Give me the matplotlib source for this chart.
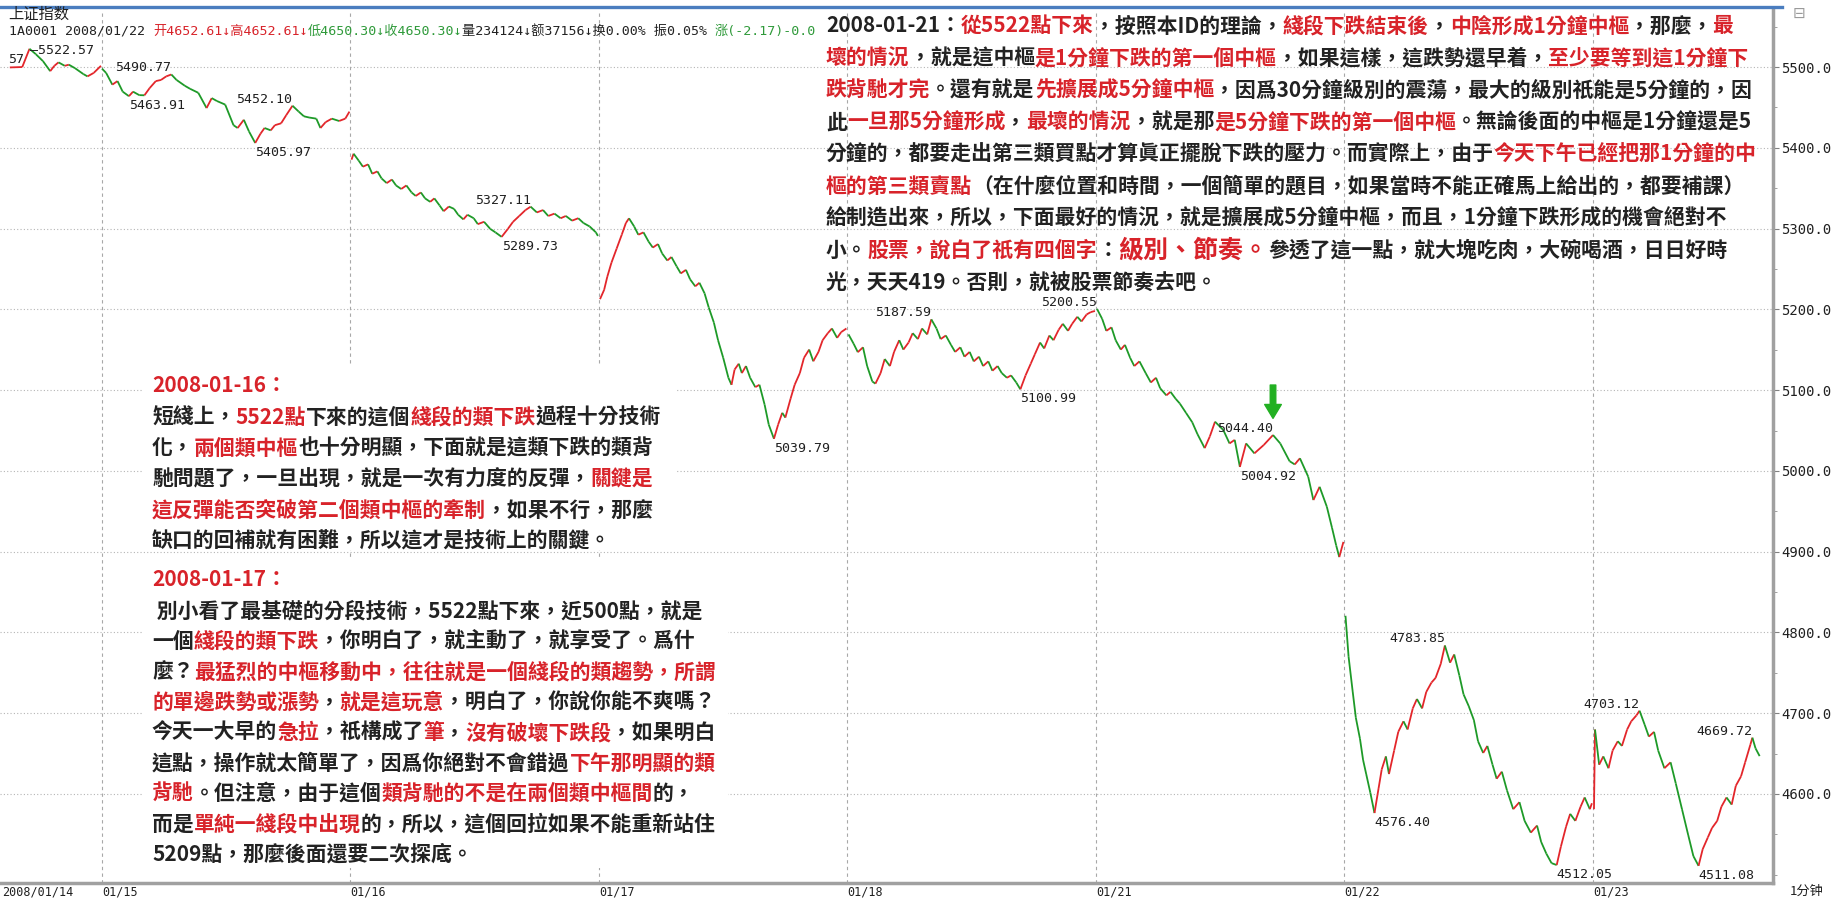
import matplotlib
matplotlib.use("Agg")
import matplotlib.pyplot as plt
from matplotlib.collections import LineCollection
from matplotlib.lines import Line2D
from matplotlib.patches import Rectangle
from matplotlib.ticker import FormatStrFormatter, MultipleLocator
import numpy as np

W, H = 1838, 902
CJK = ["Noto Sans CJK TC", "DejaVu Sans"]
MONO = ["DejaVu Sans Mono", "Noto Sans CJK SC"]

UP = "#e3262b"
DOWN = "#1e9a28"
R = "#d8232a"
K = "#222222"
G = "#2f9a3a"

day_names = ["2008/01/14", "01/15", "01/16", "01/17", "01/18", "01/21", "01/22", "01/23"]
day_len = 240

# 1-minute index: minute of the session and level
t_0114 = [151, 163, 170, 176, 183, 190, 194, 198, 204, 208, 214, 222, 226, 232, 239]
p_0114 = [5499.5, 5500.0, 5522.57, 5516.0, 5507.3, 5494.9, 5501.5, 5505.8, 5501.5, 5502.9,
          5498.5, 5491.3, 5488.4, 5492.7, 5501.5]

t_0115 = [0, 4, 10, 15, 20, 26, 30, 36, 41, 46, 52, 57, 62, 67, 72, 80, 85, 93, 101, 106,
          111, 119, 127, 131, 137, 142, 148, 153, 157, 163, 167, 173, 178, 184, 190, 195,
          200, 207, 211, 216, 222, 229, 235, 239]
p_0115 = [5498.0, 5492.7, 5478.2, 5482.6, 5469.5, 5463.91, 5469.5, 5465.2, 5465.0, 5473.9,
          5482.6, 5484.0, 5488.4, 5490.77, 5484.0, 5476.8, 5473.1, 5468.1, 5449.2, 5461.5,
          5457.9, 5453.5, 5428.0, 5424.5, 5434.7, 5420.2, 5405.97, 5417.3, 5424.5, 5421.6,
          5428.0, 5430.3, 5440.5, 5452.10, 5444.8, 5439.0, 5437.5, 5436.1, 5424.5, 5431.8,
          5436.1, 5433.2, 5436.1, 5444.8]

t_0116 = [1, 3, 8, 12, 17, 21, 26, 30, 35, 40, 44, 49, 54, 59, 63, 68, 72, 77, 81, 86, 90,
          95, 100, 104, 109, 113, 119, 123, 129, 135, 140, 146, 152, 157, 163, 169, 174, 180,
          186, 191, 197, 203, 208, 214, 220, 225, 231, 237, 239]
p_0116 = [5385.3, 5392.7, 5384.0, 5376.6, 5379.5, 5367.9, 5370.8, 5362.1, 5356.3, 5360.7,
          5353.4, 5349.0, 5353.4, 5344.7, 5340.4, 5344.7, 5337.4, 5333.1, 5337.4, 5328.7,
          5321.5, 5327.3, 5324.4, 5317.1, 5311.4, 5317.1, 5312.8, 5305.5, 5308.4, 5299.6,
          5295.3, 5289.73, 5299.6, 5308.4, 5315.6, 5322.9, 5327.11, 5320.0, 5322.9, 5315.6,
          5318.5, 5312.8, 5315.6, 5309.8, 5312.8, 5306.9, 5302.6, 5295.3, 5290.9]

t_0117 = [1, 5, 8, 12, 17, 22, 26, 29, 34, 38, 43, 48, 52, 57, 61, 66, 70, 75, 79, 84, 88,
          93, 97, 102, 106, 111, 115, 120, 125, 128, 131, 135, 138, 142, 146, 151, 155, 160,
          164, 169, 173, 177, 180, 185, 189, 194, 198, 203, 207, 212, 216, 221, 225, 230,
          234, 239]
p_0117 = [5212.6, 5224.2, 5240.2, 5257.6, 5275.0, 5292.4, 5306.9, 5312.7, 5302.6, 5292.4,
          5295.3, 5283.7, 5276.5, 5280.8, 5269.2, 5260.5, 5264.8, 5253.2, 5244.5, 5248.9,
          5237.2, 5228.5, 5232.9, 5219.8, 5202.4, 5183.5, 5161.8, 5140.0, 5115.3, 5106.6,
          5125.5, 5132.7, 5121.1, 5129.8, 5115.3, 5103.7, 5106.6, 5081.9, 5057.2, 5039.79,
          5057.2, 5071.9, 5066.0, 5089.2, 5106.6, 5121.1, 5140.0, 5150.2, 5135.7, 5147.3,
          5161.8, 5170.5, 5176.3, 5164.7, 5171.9, 5176.3]

t_0118 = [1, 6, 10, 15, 19, 24, 27, 32, 36, 41, 45, 50, 54, 59, 63, 68, 72, 77, 81, 86, 90,
          95, 100, 104, 109, 113, 118, 122, 127, 131, 136, 140, 145, 149, 154, 158, 163, 167,
          172, 177, 181, 186, 190, 195, 199, 204, 208, 213, 217, 222, 226, 231, 235, 239]
p_0118 = [5169.0, 5157.3, 5147.0, 5153.0, 5129.8, 5110.7, 5108.0, 5121.1, 5138.5, 5129.8,
          5147.3, 5161.8, 5150.2, 5158.9, 5170.5, 5163.2, 5176.3, 5169.0, 5187.59, 5176.3,
          5163.2, 5167.6, 5156.0, 5147.3, 5153.0, 5141.4, 5147.3, 5135.6, 5141.4, 5129.8,
          5135.6, 5124.0, 5129.8, 5121.1, 5115.3, 5118.2, 5109.5, 5100.99, 5118.2, 5132.7,
          5144.4, 5158.9, 5151.6, 5167.6, 5161.8, 5174.8, 5182.1, 5173.4, 5182.1, 5190.8,
          5185.0, 5193.7, 5196.6, 5198.0]

t_0121 = [1, 6, 10, 15, 19, 24, 28, 33, 37, 42, 48, 53, 58, 62, 68, 72, 77, 81, 87, 93, 98,
          105, 110, 115, 123, 129, 134, 139, 145, 153, 162, 171, 178, 187, 192, 197, 205, 210,
          216, 223, 228, 232, 235, 239]
p_0121 = [5200.55, 5188.2, 5173.4, 5177.7, 5161.8, 5150.2, 5156.0, 5140.0, 5129.8, 5135.6,
          5121.1, 5109.5, 5115.3, 5102.3, 5093.5, 5097.9, 5089.2, 5083.4, 5071.8, 5060.2,
          5045.6, 5028.2, 5042.7, 5060.9, 5050.6, 5034.0, 5038.4, 5004.92, 5034.0, 5021.7,
          5032.0, 5044.40, 5034.0, 5012.0, 5008.0, 5015.6, 4992.8, 4963.9, 4980.3, 4955.6,
          4929.5, 4907.8, 4893.3, 4912.1]

t_0122 = [1, 4, 8, 11, 15, 18, 21, 25, 29, 33, 36, 40, 43, 48, 52, 57, 61, 66, 70, 75, 79,
          84, 88, 93, 97, 102, 106, 111, 115, 120, 125, 129, 134, 138, 143, 147, 152, 157,
          163, 169, 174, 180, 186, 190, 195, 200, 205, 209, 214, 218, 223, 228, 232, 237, 239]
p_0122 = [4820.6, 4769.8, 4726.3, 4694.4, 4668.3, 4642.1, 4624.7, 4601.5, 4576.40, 4607.3,
          4630.5, 4646.5, 4624.7, 4653.8, 4677.0, 4690.0, 4679.9, 4706.0, 4717.6, 4706.0,
          4726.3, 4737.9, 4743.7, 4761.1, 4783.85, 4762.6, 4772.7, 4746.6, 4723.4, 4708.9,
          4691.5, 4665.3, 4650.8, 4659.5, 4636.3, 4618.9, 4627.6, 4604.4, 4581.2, 4589.9,
          4566.7, 4552.2, 4560.9, 4540.6, 4526.1, 4514.4, 4512.05, 4534.7, 4559.4, 4575.4,
          4566.7, 4584.1, 4595.7, 4581.2, 4588.5]

t_0123 = [1, 2, 6, 10, 15, 19, 24, 28, 33, 37, 42, 45, 50, 54, 59, 63, 69, 75, 80, 86, 92,
          97, 102, 106, 111, 115, 120, 124, 129, 134, 138, 143, 147, 152, 154, 157, 161]
p_0123 = [4581.2, 4679.8, 4636.3, 4646.5, 4631.9, 4653.8, 4665.3, 4659.5, 4679.8, 4690.0,
          4697.3, 4703.12, 4685.6, 4671.1, 4676.9, 4653.8, 4631.9, 4639.2, 4613.1, 4581.2,
          4549.2, 4523.1, 4511.08, 4531.7, 4546.3, 4557.9, 4566.7, 4584.1, 4595.7, 4586.9,
          4610.2, 4621.8, 4639.2, 4660.9, 4669.72, 4656.6, 4646.9]

sessions = [(t_0114, p_0114), (t_0115, p_0115), (t_0116, p_0116), (t_0117, p_0117),
            (t_0118, p_0118), (t_0121, p_0121), (t_0122, p_0122), (t_0123, p_0123)]

# marked highs / lows: session, minute, value, kind
mark_day = [0, 1, 1, 1, 1, 2, 2, 3, 4, 4, 5, 5, 5, 6, 6, 6, 7, 7, 7]
mark_min = [170, 26, 67, 148, 184, 146, 174, 169, 81, 167, 1, 139, 171, 29, 97, 205, 45, 102, 154]
mark_val = [5522.57, 5463.91, 5490.77, 5405.97, 5452.10, 5289.73, 5327.11, 5039.79, 5187.59,
            5100.99, 5200.55, 5004.92, 5044.40, 4576.40, 4783.85, 4512.05, 4703.12, 4511.08,
            4669.72]
mark_kind = ["top", "lo", "hi", "lo", "hi", "lo", "hi", "lo", "hi", "lo", "hi", "lo", "hi",
             "lo", "hi", "lo", "hi", "lo", "hi"]

y_ticks = [4600, 4700, 4800, 4900, 5000, 5100, 5200, 5300, 5400, 5500]

fig = plt.figure(figsize=(W / 100, H / 100), dpi=100)
fig.patch.set_facecolor("white")
ax = fig.add_axes([0, 1 - 883 / H, 1773 / W, 873 / H])
ax.set_xlim(141.5, 1853.9)
ax.set_ylim(4489.8, 5570.6)

# price line, red for up minutes and green for down minutes
for i, (t, p) in enumerate(sessions):
    x = np.array(t) + i * day_len
    y = np.array(p)
    pts = np.column_stack([x, y])
    segs = np.stack([pts[:-1], pts[1:]], axis=1)
    cols = [UP if y[j + 1] >= y[j] else DOWN for j in range(len(y) - 1)]
    ax.add_collection(LineCollection(segs, colors=cols, linewidths=1.3, zorder=3))

# grid
for v in y_ticks:
    ax.axhline(v, color="#b5b5b5", lw=0.8, ls=(0, (1, 2)), zorder=1)
for i in range(1, len(day_names)):
    ax.axvline(i * day_len, color="#a8a8a8", lw=0.8, ls=(0, (3, 3)), zorder=1)

# high / low labels
for d, m, v, k in zip(mark_day, mark_min, mark_val, mark_kind):
    x = d * day_len + m
    kw = dict(textcoords="offset points", fontsize=9.5, family=MONO, color="#202020", zorder=4)
    if k == "top":
        ax.annotate("\u2014%.2f" % v, xy=(x, v), xytext=(0, -1), ha="left", va="center", **kw)
    elif k == "hi":
        ax.annotate("%.2f" % v, xy=(x, v), xytext=(0, 0), ha="right", va="bottom", **kw)
    else:
        ax.annotate("%.2f" % v, xy=(x, v), xytext=(0, -2), ha="left", va="top", **kw)
ax.annotate("57", xy=(0, 5509), xycoords=("axes fraction", "data"), xytext=(6, 0),
            textcoords="offset points", ha="left", va="center", fontsize=9.5, family=MONO,
            color="#202020")

# green arrow over the 5044.40 high
ax.annotate("", xy=(5 * day_len + 171, 5044.40), xytext=(0, 36), textcoords="offset points",
            arrowprops=dict(arrowstyle="simple,head_length=0.5,head_width=0.6,tail_width=0.2",
                            color="#22b022", mutation_scale=20, shrinkA=0, shrinkB=12),
            zorder=5)

# axes styling
for s in ["top", "left"]:
    ax.spines[s].set_visible(False)
for s in ["right", "bottom"]:
    ax.spines[s].set_color("#a0a0a0")
    ax.spines[s].set_linewidth(2.5)
ax.yaxis.tick_right()
ax.set_yticks(y_ticks)
ax.yaxis.set_minor_locator(MultipleLocator(50))
ax.yaxis.set_major_formatter(FormatStrFormatter("%.1f"))
ax.tick_params(axis="y", which="major", length=4, color="#808080", pad=2, labelsize=10,
               labelcolor="#202020")
ax.tick_params(axis="y", which="minor", length=3, color="#909090")
for lab in ax.get_yticklabels():
    lab.set_family(MONO)
ax.set_xticks([144] + [i * day_len for i in range(1, len(day_names))])
ax.set_xticklabels(day_names, family=MONO, fontsize=8.5, color="#202020", ha="left")
ax.tick_params(axis="x", length=0, pad=2)
ax.set_facecolor("white")

# frame decorations
fig.add_artist(Line2D([0, 1782 / W], [1 - 7 / H] * 2, color="#4a7dbf", lw=2.4))
fig.text(1793 / W, 1 - 13 / H, "\u229f", fontsize=11, color="#9a9a9a", ha="left", va="center")
fig.text(1790 / W, 1 - 891 / H, "1分钟", fontsize=9.5, color="#202020", ha="left", va="center",
         family=["Noto Sans CJK SC", "DejaVu Sans"])

renderer = fig.canvas.get_renderer()


def rich_line(x, y, parts, size=15.0, family=CJK, weight="bold", z=6):
    for part in parts:
        s, c = part[0], part[1]
        fs = part[2] if len(part) > 2 else size
        t = fig.text(x / W, 1 - y / H, s, color=c, fontsize=fs, family=family,
                     fontweight=weight, ha="left", va="center_baseline", zorder=z)
        x += t.get_window_extent(renderer).width


# header
fig.text(8 / W, 1 - 14 / H, "上证指数", fontsize=11, color="#202020", ha="left", va="center",
         family=["Noto Sans CJK SC", "DejaVu Sans"])
rich_line(9, 30, [("1A0001 2008/01/22 ", K), ("开4652.61↓高4652.61↓", R),
                  ("低4650.30↓收4650.30↓", G), ("量234124↓额37156↓换0.00% 振0.05% ", K),
                  ("涨(-2.17)-0.0", G)], size=9.5, family=MONO, weight="normal")

top_lines = [
    [("2008-01-21：", K), ("從5522點下來", R), ("，按照本ID的理論，", K), ("綫段下跌結束後", R),
     ("，", K), ("中陰形成1分鐘中樞", R), ("，那麼，", K), ("最", R)],
    [("壞的情況", R), ("，就是這中樞", K), ("是1分鐘下跌的第一個中樞", R),
     ("，如果這樣，這跌勢還早着，", K), ("至少要等到這1分鐘下", R)],
    [("跌背馳才完", R), ("。還有就是", K), ("先擴展成5分鐘中樞", R),
     ("，因爲30分鐘級別的震蕩，最大的級別祇能是5分鐘的，因", K)],
    [("此", K), ("一旦那5分鐘形成", R), ("，", K), ("最壞的情況", R), ("，就是那", K),
     ("是5分鐘下跌的第一個中樞", R), ("。無論後面的中樞是1分鐘還是5", K)],
    [("分鐘的，都要走出第三類買點才算眞正擺脫下跌的壓力。而實際上，由于", K),
     ("今天下午已經把那1分鐘的中", R)],
    [("樞的第三類賣點", R), ("（在什麼位置和時間，一個簡單的題目，如果當時不能正確馬上給出的，都要補課）", K)],
    [("給制造出來，所以，下面最好的情況，就是擴展成5分鐘中樞，而且，1分鐘下跌形成的機會絕對不", K)],
    [("小。", K), ("股票，說白了祇有四個字", R), ("：", K), ("級別、節奏。", R, 18.0),
     ("參透了這一點，就大塊吃肉，大碗喝酒，日日好時", K)],
    [("光，天天419。否則，就被股票節奏去吧。", K)],
]

left_lines_1 = [
    [("2008-01-16：", R)],
    [("短綫上，", K), ("5522點", R), ("下來的這個", K), ("綫段的類下跌", R), ("過程十分技術", K)],
    [("化，", K), ("兩個類中樞", R), ("也十分明顯，下面就是這類下跌的類背", K)],
    [("馳問題了，一旦出現，就是一次有力度的反彈，", K), ("關鍵是", R)],
    [("這反彈能否突破第二個類中樞的牽制", R), ("，如果不行，那麼", K)],
    [("缺口的回補就有困難，所以這才是技術上的關鍵。", K)],
]

left_lines_2 = [
    [("2008-01-17：", R)],
    [(" 別小看了最基礎的分段技術，5522點下來，近500點，就是", K)],
    [("一個", K), ("綫段的類下跌", R), ("，你明白了，就主動了，就享受了。爲什", K)],
    [("麼？", K), ("最猛烈的中樞移動中，往往就是一個綫段的類趨勢，所謂", R)],
    [("的單邊跌勢或漲勢", R), ("，", K), ("就是這玩意", R), ("，明白了，你說你能不爽嗎？", K)],
    [("今天一大早的", K), ("急拉", R), ("，祇構成了", K), ("筆", R), ("，", K), ("沒有破壞下跌段", R),
     ("，如果明白", K)],
    [("這點，操作就太簡單了，因爲你絕對不會錯過", K), ("下午那明顯的類", R)],
    [("背馳", R), ("。但注意，由于這個", K), ("類背馳的不是在兩個類中樞間", R), ("的，", K)],
    [("而是", K), ("單純一綫段中出現", R), ("的，所以，這個回拉如果不能重新站住", K)],
    [("5209點，那麼後面還要二次探底。", K)],
]

# white panels behind the left notes
for x0, y0, x1, y1 in [(143, 365, 675, 550), (143, 557, 728, 868)]:
    fig.add_artist(Rectangle((x0 / W, 1 - y1 / H), (x1 - x0) / W, (y1 - y0) / H,
                             transform=fig.transFigure, facecolor="white", edgecolor="none",
                             zorder=5))

for k, parts in enumerate(top_lines):
    rich_line(826, 24 + 32 * k, parts)
for k, parts in enumerate(left_lines_1):
    rich_line(152, 384 + 31 * k, parts)
for k, parts in enumerate(left_lines_2):
    rich_line(152, 578 + 30.5 * k, parts)

fig.savefig("out.png", dpi=100, facecolor="white")
